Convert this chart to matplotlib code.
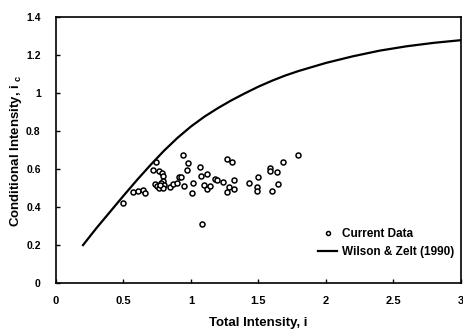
import matplotlib
matplotlib.use("Agg")
import matplotlib.pyplot as plt
from matplotlib.ticker import FuncFormatter

# Current data (scatter)
data_x = [0.498, 0.573, 0.61, 0.642, 0.659, 0.74, 0.72, 0.763, 0.783, 0.79, 0.795,
          0.733, 0.75, 0.765, 0.78, 0.80, 0.79, 0.77, 0.844, 0.869, 0.894, 0.913,
          0.938, 0.98, 0.968, 0.927, 0.946, 1.017, 1.007, 1.07, 1.075, 1.08, 1.116,
          1.096, 1.116, 1.14, 1.178, 1.195, 1.24, 1.27, 1.308, 1.318, 1.284, 1.264,
          1.32, 1.43, 1.494, 1.491, 1.491, 1.585, 1.585, 1.635, 1.642, 1.6, 1.68, 1.795]
data_y = [0.423, 0.48, 0.487, 0.49, 0.477, 0.64, 0.595, 0.592, 0.578, 0.565, 0.539,
          0.522, 0.513, 0.501, 0.53, 0.518, 0.50, 0.515, 0.505, 0.522, 0.525, 0.557,
          0.674, 0.633, 0.598, 0.557, 0.513, 0.525, 0.477, 0.613, 0.564, 0.313, 0.574,
          0.518, 0.498, 0.512, 0.55, 0.545, 0.534, 0.656, 0.64, 0.545, 0.504, 0.482,
          0.494, 0.529, 0.557, 0.504, 0.487, 0.606, 0.592, 0.586, 0.522, 0.486, 0.637, 0.675]

# Wilson & Zelt (1990) curve
curve_x = [0.2, 0.3, 0.4, 0.5, 0.6, 0.7, 0.8, 0.9, 1.0, 1.1, 1.2, 1.3, 1.4, 1.5,
           1.6, 1.7, 1.8, 2.0, 2.2, 2.4, 2.6, 2.8, 3.0]
curve_y = [0.20, 0.29, 0.375, 0.46, 0.543, 0.622, 0.697, 0.765, 0.825, 0.877, 0.922,
           0.963, 1.0, 1.035, 1.066, 1.094, 1.118, 1.16, 1.195, 1.225, 1.248, 1.266, 1.28]

x_ticks = [0, 0.5, 1, 1.5, 2, 2.5, 3]
y_ticks = [0, 0.2, 0.4, 0.6, 0.8, 1, 1.2, 1.4]

plt.rcParams['font.family'] = ['Liberation Sans', 'DejaVu Sans']

fig = plt.figure(figsize=(4.63, 3.35), dpi=100)
ax = fig.add_axes([0.121, 0.155, 0.874, 0.793])

ax.plot(data_x, data_y, linestyle='none', marker='o', markersize=3.6,
        markerfacecolor='white', markeredgecolor='black', markeredgewidth=1.1,
        label='Current Data')
ax.plot(curve_x, curve_y, color='black', linewidth=1.6, label='Wilson & Zelt (1990)')

ax.set_xlim(0, 3)
ax.set_ylim(0, 1.4)
ax.set_xticks(x_ticks)
ax.set_yticks(y_ticks)
fmt = FuncFormatter(lambda v, p: f"{v:g}")
ax.xaxis.set_major_formatter(fmt)
ax.yaxis.set_major_formatter(fmt)
ax.tick_params(direction='in', length=3, width=1, labelsize=8)
ax.tick_params(axis='x', pad=9)
ax.tick_params(axis='y', pad=11, labelsize=7.5)
for lab in ax.get_xticklabels() + ax.get_yticklabels():
    lab.set_fontweight('bold')
for s in ax.spines.values():
    s.set_linewidth(1.2)

ax.set_xlabel('Total Intensity, i', fontsize=9.5, fontweight='bold', labelpad=8)
ax.set_ylabel('Conditional Intensity, i $_{\\mathregular{c}}$', fontsize=9.5,
              fontweight='bold', va='center')
ax.yaxis.set_label_coords(-0.1, 0.5)

leg = ax.legend(loc='lower right', bbox_to_anchor=(1.01, 0.055), frameon=False,
                fontsize=8.5, handlelength=1.6, handletextpad=0.4,
                labelspacing=0.5, markerscale=0.8)
for t in leg.get_texts():
    t.set_fontweight('bold')

fig.savefig('out.png', dpi=100)
